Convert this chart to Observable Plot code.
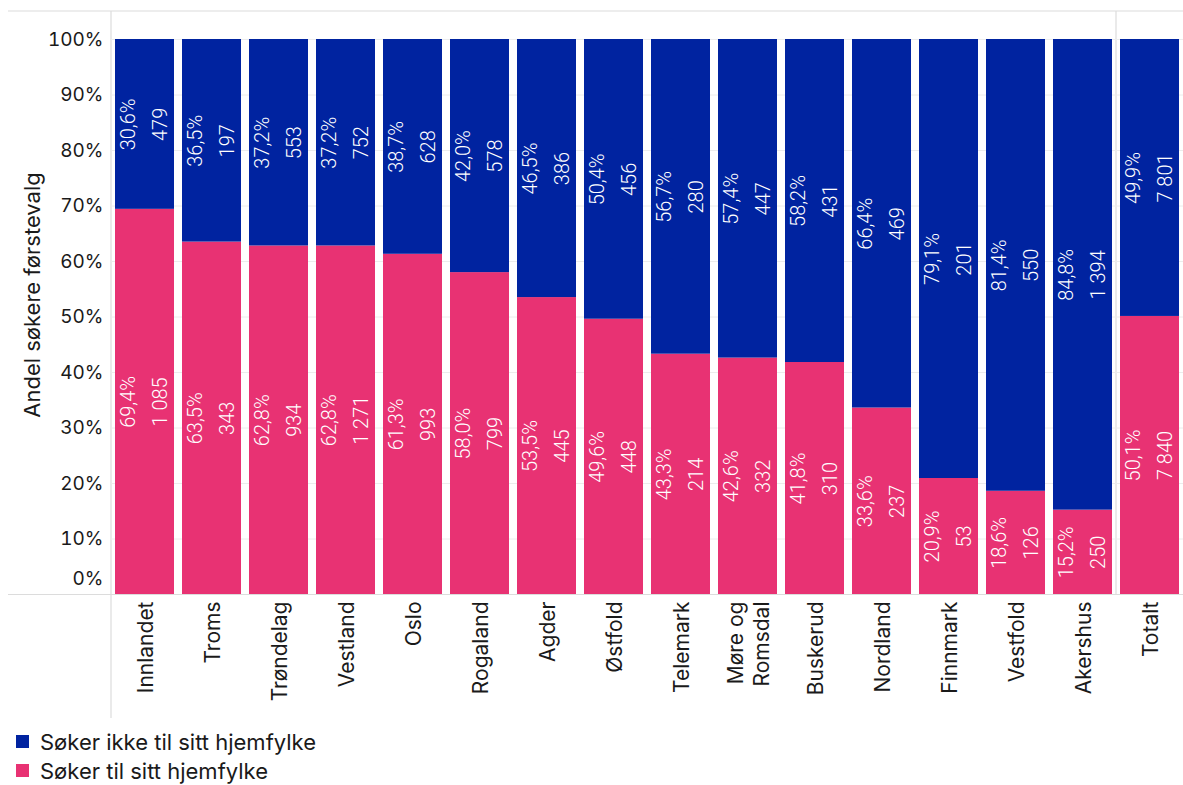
<!DOCTYPE html>
<html>
<head>
<meta charset="utf-8">
<script src="https://cdn.jsdelivr.net/npm/d3@7"></script>
<script src="https://cdn.jsdelivr.net/npm/@observablehq/plot@0.6"></script>
<style>
  html, body { margin: 0; padding: 0; background: #fff; overflow: hidden; }
  #wrap { position: relative; width: 1183px; }
  .legend { font-family: Inter, "Open Sans", sans-serif; font-size: 22px; color: #1a1a1a; padding-left: 16px; }
  .legend .row { display: flex; align-items: center; height: 29px; }
  .legend .sw { width: 13px; height: 13px; margin-right: 11px; }
</style>
</head>
<body>
<div id="wrap"></div>
<script>
// ---- data ----
const regions = ["Innlandet","Troms","Trøndelag","Vestland","Oslo","Rogaland","Agder","Østfold","Telemark","Møre og Romsdal","Buskerud","Nordland","Finnmark","Vestfold","Akershus","Totalt"];
const pctAway = [30.6,36.5,37.2,37.2,38.7,42.0,46.5,50.4,56.7,57.4,58.2,66.4,79.1,81.4,84.8,49.9];
const nAway   = [479,197,553,752,628,578,386,456,280,447,431,469,201,550,1394,7801];
const pctHome = [69.4,63.5,62.8,62.8,61.3,58.0,53.5,49.6,43.3,42.6,41.8,33.6,20.9,18.6,15.2,50.1];
const nHome   = [1085,343,934,1271,993,799,445,448,214,332,310,237,53,126,250,7840];
const seriesAway = "Søker ikke til sitt hjemfylke";
const seriesHome = "Søker til sitt hjemfylke";
const yTicks = [0,10,20,30,40,50,60,70,80,90,100];
const yTitle = "Andel søkere førstevalg";

const blue = "#0023a0", pink = "#e83273";

const long = [];
regions.forEach((r, i) => {
  long.push({region: r, group: seriesHome, pct: pctHome[i], n: nHome[i]});
  long.push({region: r, group: seriesAway, pct: pctAway[i], n: nAway[i]});
});

const loc = d3.formatLocale({decimal: ",", thousands: " ", grouping: [3], currency: ["", ""]});
const fmtPct = d => loc.format(".1f")(d) + "%";
const fmtN = loc.format(",d");
const order = [seriesHome, seriesAway];

const labelFont = "Roboto, sans-serif";

const chart = Plot.plot({
  width: 1183,
  height: 722,
  marginTop: 39,
  marginBottom: 128,
  marginLeft: 111,
  marginRight: 0,
  style: {fontFamily: "Inter, 'Open Sans', sans-serif", color: "#1a1a1a", background: "#fff"},
  x: {domain: regions, paddingInner: 0.12, paddingOuter: 0.06, label: null},
  y: {domain: [0, 100], label: null},
  color: {domain: [seriesAway, seriesHome], range: [blue, pink]},
  marks: [
    Plot.gridY(yTicks.slice(1), {stroke: "#ececec", strokeOpacity: 1}),
    Plot.barY(long, {x: "region", y: "pct", fill: "group", order}),
    Plot.text(long, Plot.stackY({x: "region", y: "pct", z: "group", order,
      text: d => fmtPct(d.pct), rotate: -90, dx: -16, fill: "white",
      fontFamily: labelFont, fontSize: 20, fontWeight: 300})),
    Plot.text(long, Plot.stackY({x: "region", y: "pct", z: "group", order,
      text: d => fmtN(d.n), rotate: -90, dx: 16, fill: "white",
      fontFamily: labelFont, fontSize: 20, fontWeight: 300})),
    Plot.axisY(yTicks.slice(1), {tickSize: 0, tickPadding: 8, tickFormat: d => d + "%", fontSize: 19, label: null}),
    Plot.axisY([0], {tickSize: 0, tickPadding: 8, tickFormat: d => d + "%", fontSize: 19, dy: -16, label: null}),
    Plot.axisX({tickSize: 0, tickPadding: 7, tickRotate: -90, fontSize: 21, lineHeight: 1.2,
      tickFormat: d => d.replace("Møre og ", "Møre og\n"), label: null}),
    Plot.text([yTitle], {frameAnchor: "left", textAnchor: "middle", rotate: -90, dx: -79, dy: -22, fontSize: 22, fill: "#1a1a1a"})
  ]
});

// decorative frame lines
const svg = d3.select(chart);
const y = chart.scale("y"), x = chart.scale("x");
const y0 = y.apply(0), yTop = y.apply(100) - 28;
const g = svg.insert("g", ":first-child").attr("stroke", "#dcdcdc").attr("stroke-width", 1.2);
g.append("line").attr("x1", 8).attr("x2", 1183).attr("y1", yTop).attr("y2", yTop);
g.append("line").attr("x1", 8).attr("x2", 1183).attr("y1", y0 + 0.5).attr("y2", y0 + 0.5);
g.append("line").attr("x1", 111).attr("x2", 111).attr("y1", yTop).attr("y2", 718);
const xSep = x.apply("Totalt") - (x.step - x.bandwidth) / 2;
g.append("line").attr("x1", xSep).attr("x2", xSep).attr("y1", yTop).attr("y2", y0);

const wrap = document.getElementById("wrap");
wrap.appendChild(chart);

const legend = document.createElement("div");
legend.className = "legend";
legend.style.marginTop = "5px";
[[seriesAway, blue], [seriesHome, pink]].forEach(([label, c]) => {
  const row = document.createElement("div");
  row.className = "row";
  const sw = document.createElement("span");
  sw.className = "sw"; sw.style.background = c;
  const t = document.createElement("span");
  t.textContent = label;
  row.appendChild(sw); row.appendChild(t);
  legend.appendChild(row);
});
wrap.appendChild(legend);
</script>
</body>
</html>
